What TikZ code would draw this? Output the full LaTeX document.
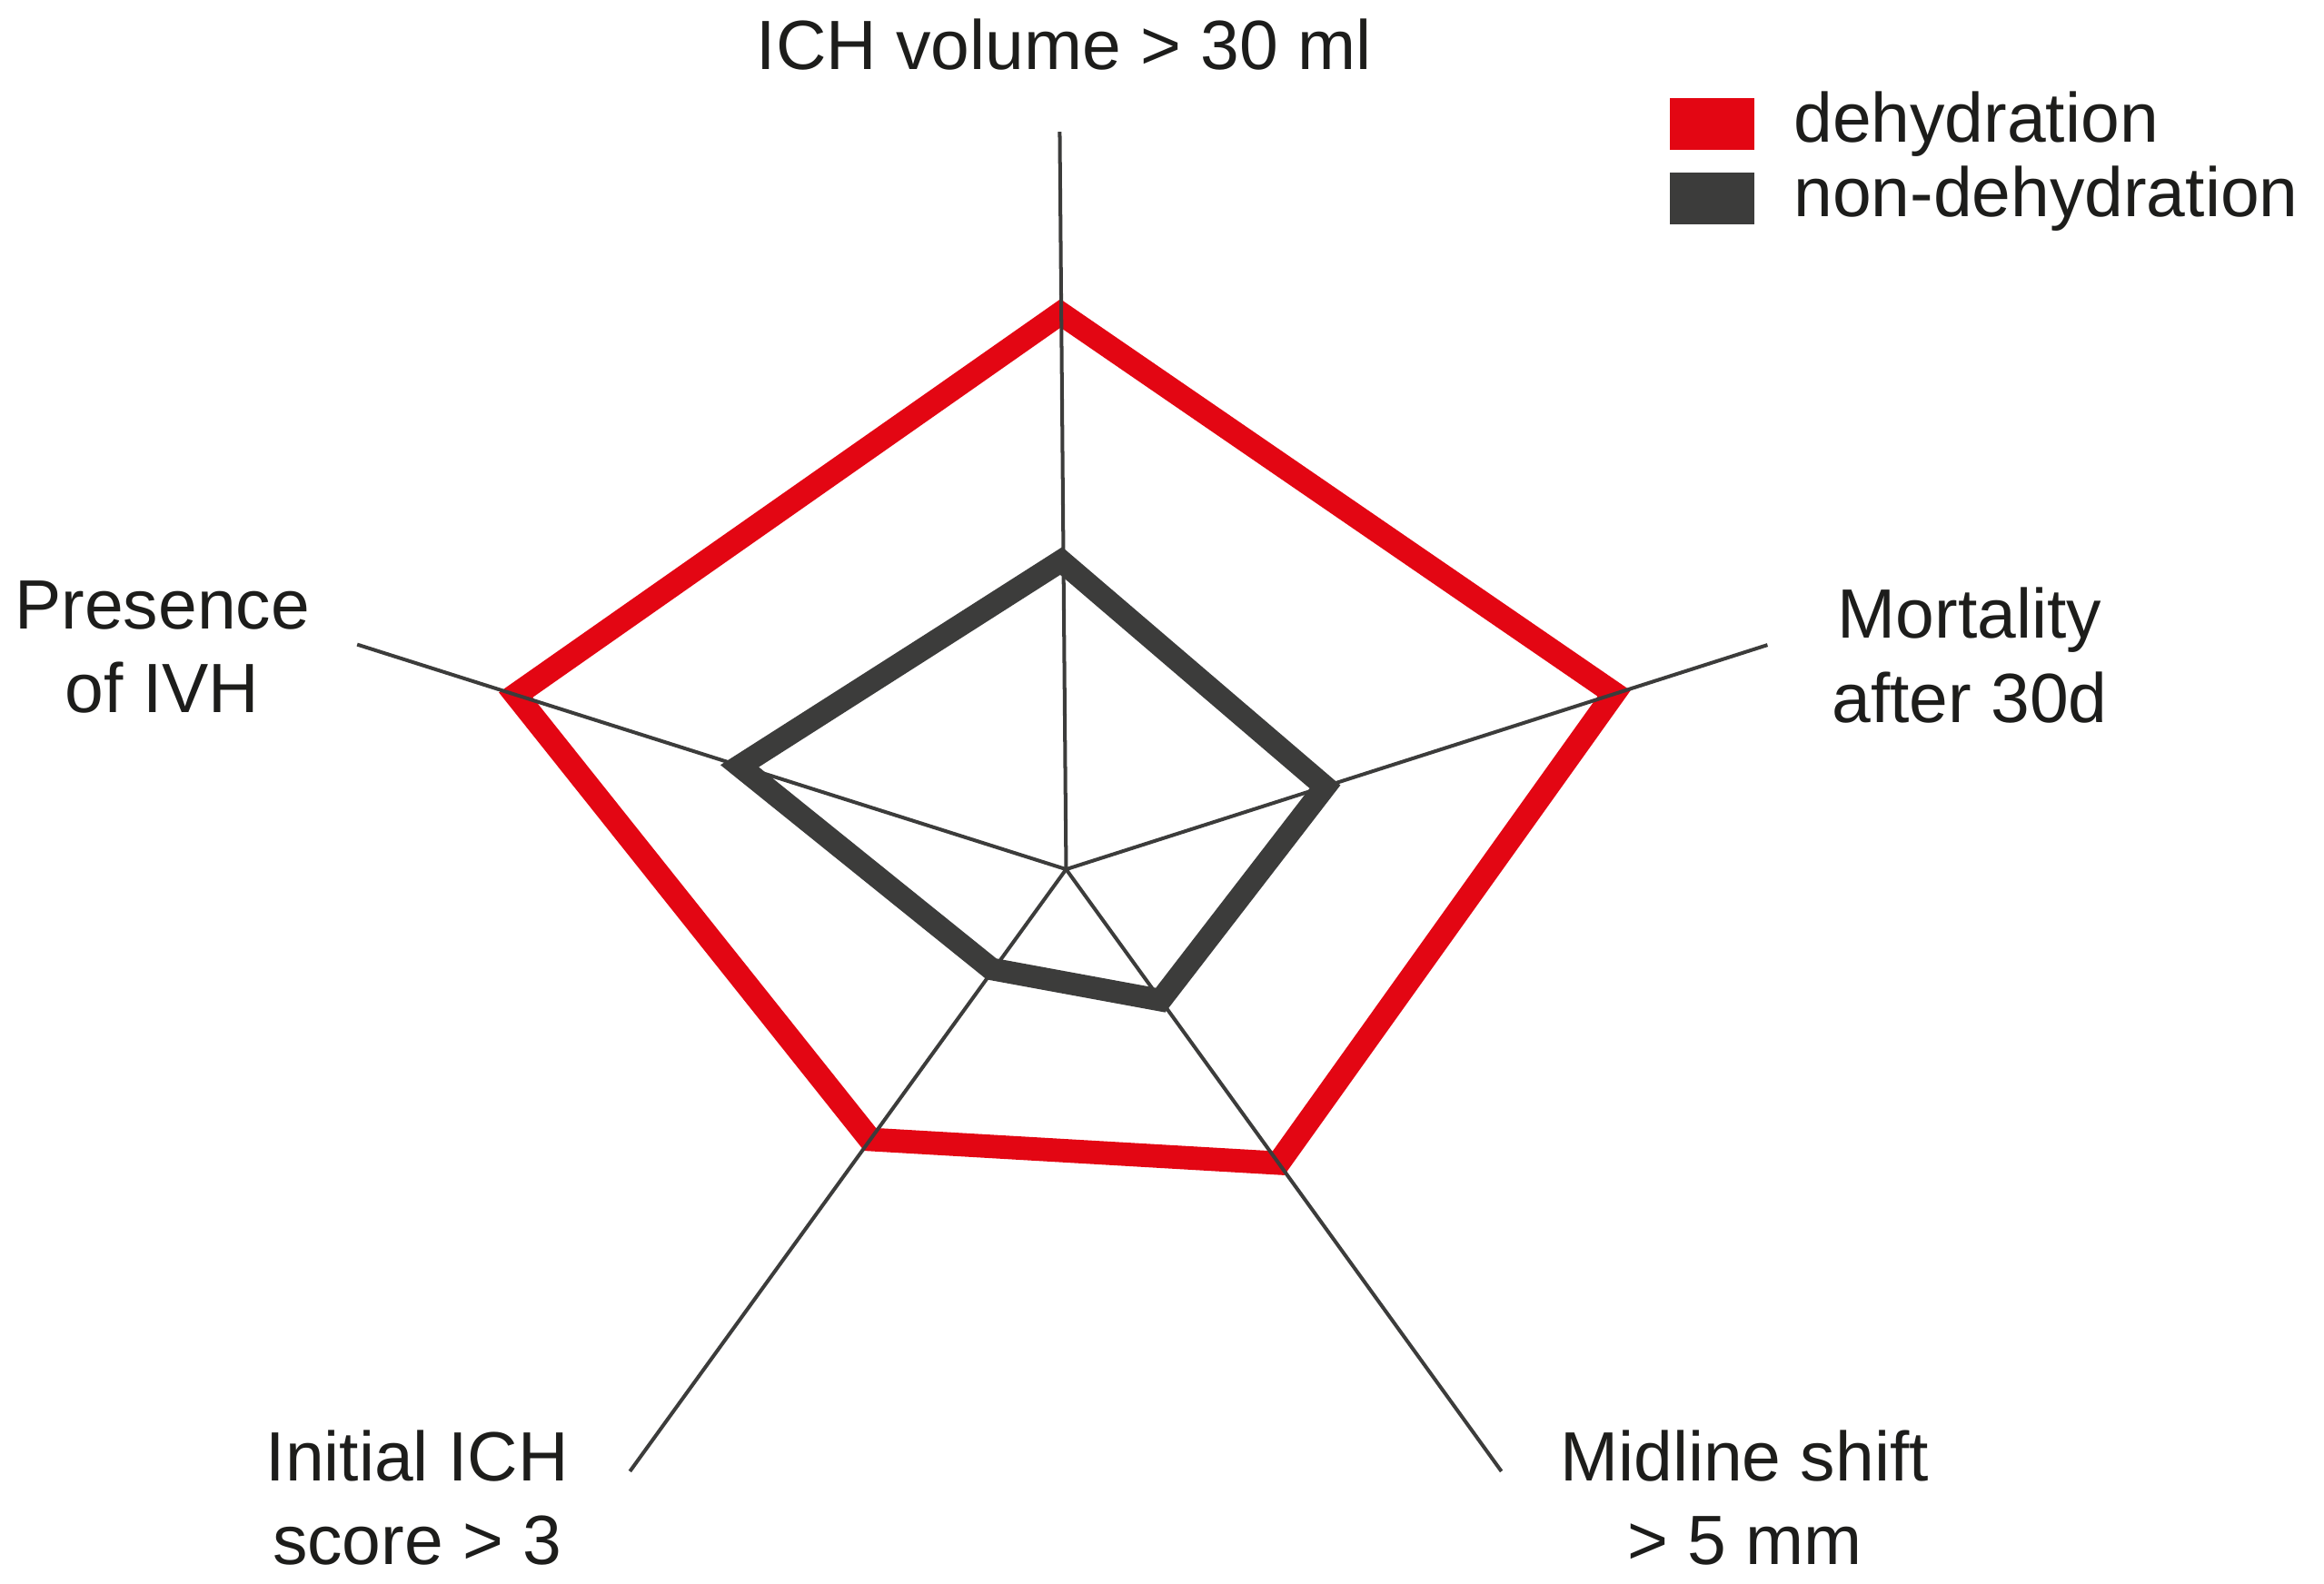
\documentclass[tikz,border=0pt]{standalone}
\usepackage{fontspec}
\setmainfont{Liberation Sans}
\usetikzlibrary{positioning}
\definecolor{dehydred}{HTML}{E30613}
\definecolor{nondark}{HTML}{3C3C3B}
\definecolor{labeltext}{HTML}{1D1D1B}

\begin{document}
\begin{tikzpicture}
\tikzstyle{axis}=[draw=nondark, line width=0.7pt]
\tikzstyle{dehyd}=[draw=dehydred, line width=4.5pt, line join=miter]
\tikzstyle{nondehyd}=[draw=nondark, line width=4.3pt, line join=miter]
\tikzstyle{axlabel}=[align=center, inner sep=0pt, text=labeltext, font=\fontsize{13.4}{16.05}\selectfont]
\tikzstyle{legendbox}=[rectangle, minimum width=5.68mm, minimum height=3.48mm, inner sep=0pt]
\tikzstyle{legendtext}=[inner sep=0pt, text=labeltext, font=\fontsize{13.4}{16.05}\selectfont, node distance=2.53mm]
\useasboundingbox (0,0) rectangle (15.68,10.69);

% centre and ends of the five axes
\coordinate (c) at (7.193,4.823);
\coordinate (ich) at (7.15,9.80);
\coordinate (mort) at (11.925,6.337);
\coordinate (mid) at (10.13,0.76);
\coordinate (init) at (4.25,0.76);
\coordinate (ivh) at (2.41,6.34);

% dehydration values
\coordinate (d1) at (7.155,8.575);
\coordinate (d2) at (10.89,6.01);
\coordinate (d3) at (8.626,2.84);
\coordinate (d4) at (5.87,3.00);
\coordinate (d5) at (3.48,6.00);

% non-dehydration values
\coordinate (n1) at (7.16,6.904);
\coordinate (n2) at (8.94,5.38);
\coordinate (n3) at (7.83,3.94);
\coordinate (n4) at (6.69,4.15);
\coordinate (n5) at (4.99,5.52);

\draw[dehyd] (d1) -- (d2) -- (d3) -- (d4) -- (d5) -- cycle;
\draw[nondehyd] (n1) -- (n2) -- (n3) -- (n4) -- (n5) -- cycle;
\path (c) edge [axis] (ich)
  (c) edge [axis] (mort)
  (c) edge [axis] (mid)
  (c) edge [axis] (init)
  (c) edge [axis] (ivh);

\node[axlabel] (tich) at (7.18,10.39) {ICH volume > 30 ml};
\node[axlabel] (tmort) at (13.29,6.267) {Mortality\\after 30d};
\node[axlabel] (tmid) at (11.77,0.58) {Midline shift\\> 5 mm};
\node[axlabel] (tinit) at (2.815,0.58) {Initial ICH\\score > 3};
\node[axlabel] (tivh) at (1.095,6.32) {Presence\\of IVH};

% legend
\node[legendbox, fill=dehydred] (sqdeh) at (11.551,9.852) {};
\node[legendbox, fill=nondark] (sqnon) at (11.551,9.351) {};
\node[legendtext, right=of sqdeh] (ldeh) {dehydration};
\node[legendtext, right=of sqnon] (lnon) {non-dehydration};
\end{tikzpicture}
\end{document}
